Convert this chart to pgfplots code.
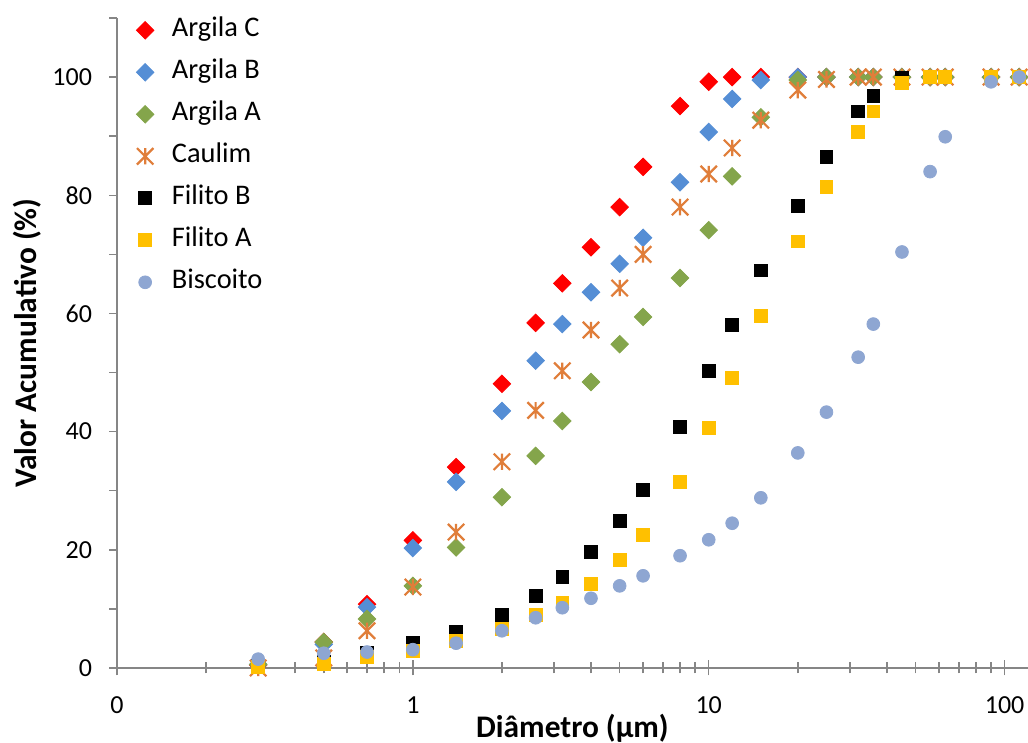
\documentclass[border=0pt]{standalone}
\usepackage{fontspec}
\setmainfont{Carlito}
\usepackage{pgfplots}
\pgfplotsset{compat=1.18}
\definecolor{cC}{HTML}{FF0000}
\definecolor{cB}{HTML}{558ED5}
\definecolor{cA}{HTML}{84A54B}
\definecolor{cK}{HTML}{E07E3A}
\definecolor{cFB}{HTML}{000000}
\definecolor{cFA}{HTML}{FFC000}
\definecolor{cBi}{HTML}{8EA6D2}
\definecolor{axgray}{HTML}{868686}
\pgfdeclareplotmark{xstar}{%
  \pgfpathmoveto{\pgfqpoint{0pt}{\pgfplotmarksize}}%
  \pgfpathlineto{\pgfqpoint{0pt}{-\pgfplotmarksize}}%
  \pgfpathmoveto{\pgfqpoint{-\pgfplotmarksize}{-\pgfplotmarksize}}%
  \pgfpathlineto{\pgfqpoint{\pgfplotmarksize}{\pgfplotmarksize}}%
  \pgfpathmoveto{\pgfqpoint{-\pgfplotmarksize}{\pgfplotmarksize}}%
  \pgfpathlineto{\pgfqpoint{\pgfplotmarksize}{-\pgfplotmarksize}}%
  \pgfusepathqstroke}
\pgfplotstableread{
x    C     B     A     K     FB    FA    Bi
0.3  0.5   0.6   0.6   0.0   0.3   0.2   1.5
0.5  4.4   4.0   4.4   1.7   1.0   0.7   2.5
0.7  10.8  10.3  8.3   6.3   2.6   1.9   2.7
1    21.6  20.3  13.9  13.7  4.2   2.9   3.1
1.4  34.0  31.5  20.4  23.0  6.1   4.6   4.2
2    48.1  43.5  28.9  34.9  9.0   6.6   6.3
2.6  58.4  52.0  35.9  43.6  12.2  9.0   8.5
3.2  65.1  58.2  41.8  50.3  15.4  11.0  10.2
4    71.2  63.6  48.4  57.2  19.6  14.2  11.8
5    78.0  68.4  54.8  64.3  24.9  18.3  13.9
6    84.8  72.8  59.4  70.0  30.1  22.5  15.6
8    95.1  82.2  66.0  78.0  40.8  31.5  19.0
10   99.2  90.7  74.1  83.6  50.3  40.6  21.7
12   100   96.3  83.2  88.0  58.0  49.1  24.5
15   100   99.5  93.2  92.7  67.3  59.6  28.8
20   100   100   99.5  97.8  78.2  72.2  36.4
25   100   100   100   99.6  86.5  81.4  43.3
32   100   100   100   100   94.2  90.7  52.6
36   100   100   100   100   96.8  94.2  58.2
45   100   100   100   100   99.8  99.0  70.4
56   100   100   100   100   100   100   84.0
63   100   100   100   100   100   100   89.9
90   100   100   100   100   100   100   99.2
112  100   100   100   100   100   100   100
}\datatable
\begin{document}
\begin{tikzpicture}
\useasboundingbox (-58.5pt,-37.5pt) rectangle (455.5pt,334pt);
% x axis
\begin{axis}[
  at={(0,0)}, anchor=south west,
  scale only axis, width=455.5pt, height=325pt,
  xmode=log, xmin=0.1, xmax=120, ymin=0, ymax=110,
  axis x line=bottom, axis y line=none,
  axis line style={-, draw=axgray, line width=0.75pt},
  xtick={0.1,1,10,100}, xticklabels={0,1,10,100},
  minor xtick={0.2,0.3,0.4,0.5,0.6,0.7,0.8,0.9,2,3,4,5,6,7,8,9,20,30,40,50,60,70,80,90},
  xtick align=center,
  major tick length=7.5pt, minor tick length=5.5pt,
  tick style={draw=axgray, line width=0.75pt},
  xticklabel style={font=\fontsize{13}{15}\selectfont, anchor=north, inner sep=0pt, yshift=-10.5pt},
  every axis x label/.style={at={(axis description cs:0.5,0)}, anchor=center, yshift=-30pt, font=\bfseries\fontsize{15.7}{18}\selectfont},
  xlabel={Diâmetro (µm)},
]
\end{axis}
% y axis and data
\begin{axis}[
  at={(0,0)}, anchor=south west,
  scale only axis, width=455.5pt, height=325pt,
  xmode=log, xmin=0.1, xmax=120, ymin=0, ymax=110,
  axis x line=none, axis y line=left,
  axis line style={-, draw=axgray, line width=0.75pt},
  ytick={0,20,40,60,80,100}, minor ytick={10,30,50,70,90,110},
  ytick align=outside,
  major tick length=3.8pt, minor tick length=3.8pt,
  tick style={draw=axgray, line width=0.75pt},
  /pgf/number format/assume math mode=true,
  yticklabel style={font=\fontsize{13}{15}\selectfont, anchor=east, inner sep=0pt, xshift=-8.5pt},
  every axis y label/.style={at={(axis description cs:0,0.5)}, rotate=90, anchor=center, yshift=45pt, font=\bfseries\fontsize{15.7}{18}\selectfont},
  ylabel={Valor Acumulativo (\%)},
  clip=false,
  legend cell align=left,
  legend style={at={(axis description cs:0,1)}, anchor=north west, xshift=6.5pt, yshift=2.3pt,
    draw=none, fill=none, font=\fontsize{14.2}{16}\selectfont, row sep=8.5pt, column sep=9pt,
    nodes={inner sep=0pt, text height=9.5pt, text depth=3pt}},
]
\addplot[only marks, mark=square*, mark size=3.1pt, mark options={rotate=45, draw=cC, fill=cC}] table[x=x, y=C] {\datatable};
\addlegendentry{Argila C}
\addplot[only marks, mark=square*, mark size=3.1pt, mark options={rotate=45, draw=cB, fill=cB}] table[x=x, y=B] {\datatable};
\addlegendentry{Argila B}
\addplot[only marks, mark=square*, mark size=3.1pt, mark options={rotate=45, draw=cA, fill=cA}] table[x=x, y=A] {\datatable};
\addlegendentry{Argila A}
\addplot[only marks, mark=xstar, mark size=4.1pt, mark options={draw=cK, line width=1.1pt}] table[x=x, y=K] {\datatable};
\addlegendentry{Caulim}
\addplot[only marks, mark=square*, mark size=3.2pt, mark options={draw=cFB, fill=cFB}] table[x=x, y=FB] {\datatable};
\addlegendentry{Filito B}
\addplot[only marks, mark=square*, mark size=3.2pt, mark options={draw=cFA, fill=cFA}] table[x=x, y=FA] {\datatable};
\addlegendentry{Filito A}
\addplot[only marks, mark=*, mark size=3.2pt, mark options={draw=cBi, fill=cBi}] table[x=x, y=Bi] {\datatable};
\addlegendentry{Biscoito}
\end{axis}
\end{tikzpicture}
\end{document}
